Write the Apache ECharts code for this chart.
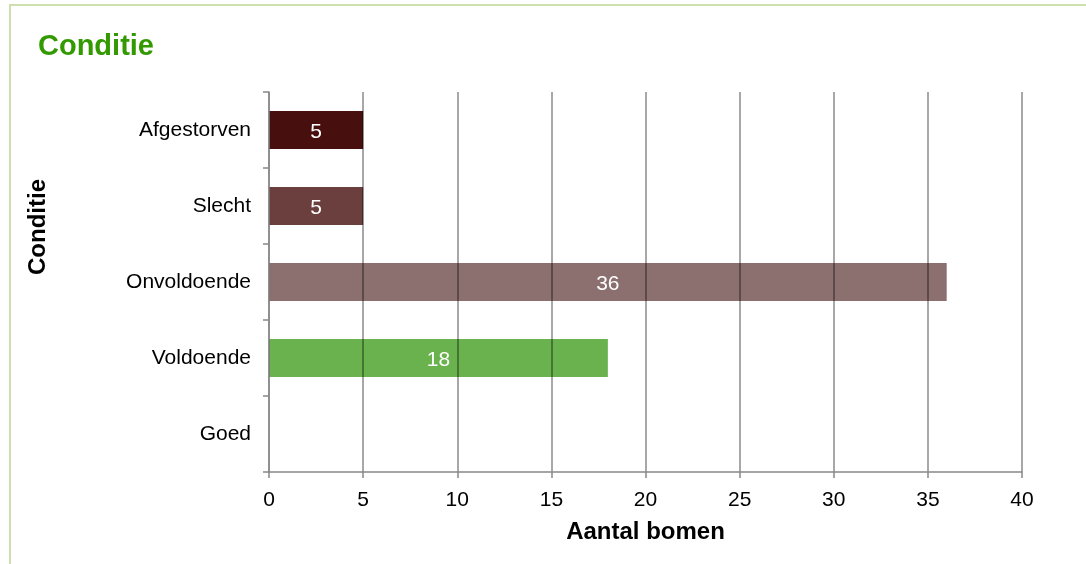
<!DOCTYPE html>
<html>
<head>
<meta charset="utf-8">
<script src="https://cdn.jsdelivr.net/npm/echarts@6/dist/echarts.min.js"></script>
<style>
  html, body { margin: 0; padding: 0; background: #fff; }
  #chart { width: 1086px; height: 564px; }
</style>
</head>
<body>
<div id="chart"></div>
<script>
// Tree condition counts (bottom to top on the category axis)
const categories = ['Goed', 'Voldoende', 'Onvoldoende', 'Slecht', 'Afgestorven'];
const counts = [0, 18, 36, 5, 5];
const barColors = ['#6ab24d', '#6ab24d', '#8c6f6f', '#6a3f3e', '#47100f'];
const xTicks = { min: 0, max: 40, interval: 5 };

const FONT = '"Liberation Sans", Arial, sans-serif';
const GRID_GRAY = '#888888';

const chart = echarts.init(document.getElementById('chart'));

chart.setOption({
  animation: false,
  backgroundColor: '#ffffff',
  title: {
    text: 'Conditie',
    left: 38,
    top: 32,
    padding: 0,
    textStyle: { fontFamily: FONT, fontSize: 29, fontWeight: 'bold', color: '#339900' }
  },
  graphic: [
    {
      type: 'rect',
      shape: { x: 10, y: 5, width: 2000, height: 2000 },
      style: { fill: 'none', stroke: '#cfdfae', lineWidth: 2 },
      silent: true
    },
    {
      type: 'text',
      x: 38,
      y: 227,
      rotation: Math.PI / 2,
      style: {
        text: 'Conditie',
        font: 'bold 24px ' + FONT,
        fill: '#000',
        textAlign: 'center',
        textVerticalAlign: 'middle'
      }
    }
  ],
  grid: { left: 269, right: 64, top: 92, bottom: 92, containLabel: false },
  xAxis: {
    type: 'value',
    min: xTicks.min,
    max: xTicks.max,
    interval: xTicks.interval,
    z: 3,
    name: 'Aantal bomen',
    nameLocation: 'middle',
    nameGap: 48,
    nameTextStyle: { fontFamily: FONT, fontSize: 24, fontWeight: 'bold', color: '#000' },
    axisLine: { show: true, lineStyle: { color: GRID_GRAY, width: 1.5 } },
    axisTick: { show: true, length: 6, inside: false, lineStyle: { color: GRID_GRAY, width: 1.5 } },
    axisLabel: { fontFamily: FONT, fontSize: 21, color: '#000', margin: 18 },
    splitLine: { show: true, lineStyle: { color: 'rgba(0,0,0,0.46)', width: 1.5 } }
  },
  yAxis: {
    type: 'category',
    data: categories,
    z: 3,
    axisLine: { show: true, lineStyle: { color: GRID_GRAY, width: 1.5 } },
    axisTick: { show: true, length: 6, inside: false, alignWithLabel: false, lineStyle: { color: GRID_GRAY, width: 1.5 } },
    axisLabel: { fontFamily: FONT, fontSize: 21, color: '#000', margin: 18, padding: [4, 0, 0, 0] },
    splitLine: { show: false }
  },
  series: [
    {
      type: 'bar',
      data: counts.map((v, i) => ({ value: v, itemStyle: { color: barColors[i] } })),
      barWidth: '50%',
      label: {
        show: true,
        position: 'inside',
        offset: [0, 2],
        fontFamily: FONT,
        fontSize: 21,
        color: '#ffffff',
        formatter: p => (p.value > 0 ? String(p.value) : '')
      }
    }
  ]
});
</script>
</body>
</html>
